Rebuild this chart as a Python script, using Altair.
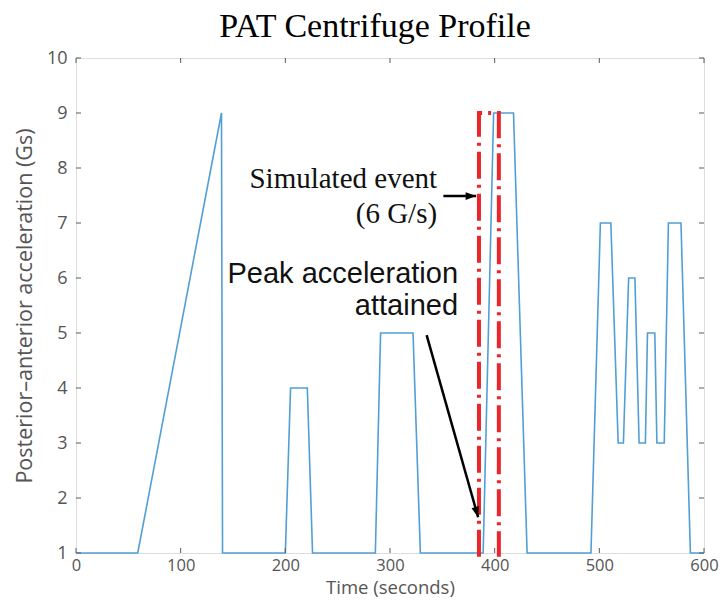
import altair as alt
import pandas as pd

# Profile
time_s = [0, 59, 139, 140, 200, 205, 221, 226, 286, 291, 322, 329, 389, 399, 418, 431,
          492, 501, 511, 518, 523, 528, 534, 538, 544, 546, 553, 555, 562, 566, 578, 587, 600]
accel_g = [1, 1, 9, 1, 1, 4, 4, 1, 1, 5, 5, 1, 1, 9, 9, 1,
           1, 7, 7, 3, 3, 6, 6, 3, 3, 5, 5, 3, 3, 7, 7, 1, 1]

# Simulated event box (dash-dot)
event_t = [385, 385, 404, 404]
event_g = [0.93, 9, 9, 0.93]

x_ticks = [0, 100, 200, 300, 400, 500, 600]
y_ticks = [1, 2, 3, 4, 5, 6, 7, 8, 9, 10]

serif_notes = ["Simulated event", "(6 G/s)"]
serif_x = [345, 345]
serif_y = [7.64, 7.0]
sans_notes = ["Peak acceleration", "attained"]
sans_x = [365, 365]
sans_y = [5.91, 5.33]

arrow_x0 = [351, 335]
arrow_y0 = [7.49, 4.96]
arrow_x1 = [382.3, 384.2]
arrow_y1 = [7.49, 1.65]
arrow_angle = [90, 164]

profile = pd.DataFrame({"t": time_s, "g": accel_g, "o": list(range(len(time_s)))})
event = pd.DataFrame({"t": event_t, "g": event_g, "o": list(range(len(event_t)))})
xt = pd.DataFrame({"t": x_ticks})
yt = pd.DataFrame({"g": y_ticks})
serif_df = pd.DataFrame({"t": serif_x, "g": serif_y, "txt": serif_notes})
sans_df = pd.DataFrame({"t": sans_x, "g": sans_y, "txt": sans_notes})
arrows = pd.DataFrame({"t": arrow_x0, "g": arrow_y0, "t2": arrow_x1, "g2": arrow_y1, "ang": arrow_angle})

xs = alt.Scale(domain=[0, 600], nice=False, zero=False)
ys = alt.Scale(domain=[1, 10], nice=False, zero=False)

W, H = 628, 495
gray = "#555555"
frame_col = "#5a5a5a"

x_axis = alt.Axis(values=x_ticks, title="Time (seconds)", ticks=False, domain=False, grid=False,
                  labelFont="Open Sans", labelFontSize=16.5, labelColor=gray, labelPadding=4,
                  labelFlush=False, titleFont="Open Sans", titleFontSize=18.5, titleFontWeight="normal",
                  titleColor=gray, titleY=40, titleBaseline="alphabetic")
y_axis = alt.Axis(values=y_ticks, title="Posterior–anterior acceleration (Gs)", ticks=False, domain=False,
                  grid=False, labelFont="Open Sans", labelFontSize=18, labelColor=gray, labelPadding=9,
                  titleFont="Open Sans", titleFontSize=21.5, titleFontWeight="normal", titleColor=gray,
                  titleX=-51, titleY=H / 2, titleAngle=270, titleBaseline="middle", titleAlign="center")

X = lambda f: alt.X(f, scale=xs, axis=x_axis)
Y = lambda f: alt.Y(f, scale=ys, axis=y_axis)

line = alt.Chart(profile).mark_line(color="#519fd4", strokeWidth=1.6, clip=False).encode(
    x=X("t:Q"), y=Y("g:Q"), order="o:Q",
)

red = alt.Chart(event).mark_line(color="#e8262b", strokeWidth=4, strokeDash=[27, 6, 3, 6],
                                 strokeCap="butt", clip=False).encode(
    x=X("t:Q"), y=Y("g:Q"), order="o:Q",
)

tick_style = dict(color=frame_col, strokeWidth=1)
bt = alt.Chart(xt).mark_rule(**tick_style).encode(x=X("t:Q"), y=alt.value(H), y2=alt.value(H - 5))
tt = alt.Chart(xt).mark_rule(**tick_style).encode(x=X("t:Q"), y=alt.value(0), y2=alt.value(5))
lt = alt.Chart(yt).mark_rule(**tick_style).encode(y=Y("g:Q"), x=alt.value(0), x2=alt.value(5))
rt = alt.Chart(yt).mark_rule(**tick_style).encode(y=Y("g:Q"), x=alt.value(W), x2=alt.value(W - 5))

serif_text = alt.Chart(serif_df).mark_text(font="Liberation Serif", fontSize=29, align="right",
                                           baseline="alphabetic", color="#111111").encode(
    x=X("t:Q"), y=Y("g:Q"), text="txt:N")
sans_text = alt.Chart(sans_df).mark_text(font="Liberation Sans", fontSize=29, align="right",
                                         baseline="alphabetic", color="#111111").encode(
    x=X("t:Q"), y=Y("g:Q"), text="txt:N")

arrow_lines = alt.Chart(arrows).mark_rule(color="black", strokeWidth=2.5).encode(
    x=X("t:Q"), y=Y("g:Q"), x2="t2:Q", y2="g2:Q")
arrow_heads = alt.Chart(arrows).mark_point(shape="M0,0 L-0.55,1.5 L0.55,1.5 Z", size=196, filled=True,
                                           color="black", opacity=1, strokeWidth=0).encode(
    x=X("t2:Q"), y=Y("g2:Q"), angle=alt.Angle("ang:Q", scale=None))

chart = alt.layer(line, red, bt, tt, lt, rt, serif_text, sans_text, arrow_lines, arrow_heads).properties(
    width=W, height=H,
    autosize=alt.AutoSizeParams(type="none"),
    padding={"left": 68, "top": 50, "right": 15, "bottom": 45},
    title=alt.TitleParams("PAT Centrifuge Profile", font="Liberation Serif", fontSize=34,
                          fontWeight="normal", color="black", anchor="middle", dx=-15, offset=5,
                          frame="group"),
).configure_view(stroke=frame_col, strokeWidth=1.2).configure(background="white")

chart.save("out.html", embed_options={"renderer": "svg", "actions": False})
